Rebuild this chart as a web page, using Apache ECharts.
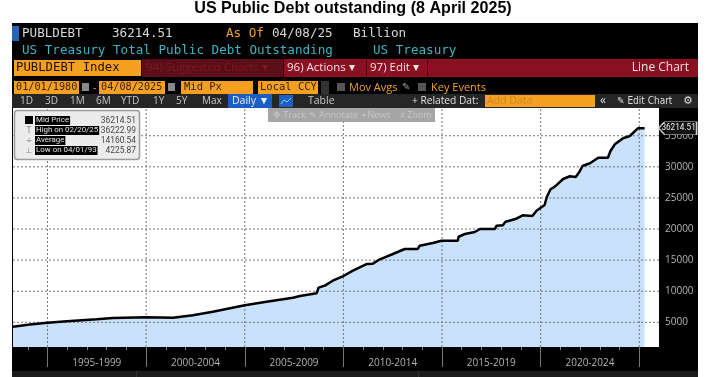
<!DOCTYPE html>
<html>
<head>
<meta charset="utf-8">
<style>html,body{margin:0;padding:0;background:#fff}#chart{width:711px;height:377px}</style>
<script src="https://cdn.jsdelivr.net/npm/echarts@6/dist/echarts.min.js"></script>
</head>
<body>
<div id="chart"></div>
<script>
var years = [1993.25, 1994.11, 1995, 1995.98, 1997.5, 1998.31, 2000, 2001.36, 2002.37, 2003.38, 2005, 2006.1, 2007.44, 2007.8, 2008.64, 2008.74, 2009.06, 2009.46, 2009.94, 2010.48, 2011.17, 2011.49, 2011.85, 2012.51, 2013.11, 2013.77, 2013.87, 2014.53, 2014.97, 2015.8, 2015.84, 2016.16, 2016.66, 2016.92, 2017.68, 2017.76, 2018.08, 2018.22, 2018.77, 2019.09, 2019.58, 2019.79, 2020.2, 2020.32, 2020.5, 2020.72, 2021.14, 2021.48, 2021.78, 2021.95, 2022.12, 2022.5, 2022.92, 2023.41, 2023.54, 2023.76, 2024.18, 2024.52, 2024.94, 2025.27];
var debt = [4296, 4640, 4940, 5160, 5480, 5690, 5800, 5740, 6120, 6700, 7730, 8310, 8950, 9230, 9660, 10570, 10890, 11690, 12330, 13300, 14370, 14430, 15130, 15980, 16790, 16790, 17320, 17750, 18120, 18120, 18760, 19200, 19520, 20000, 20000, 20530, 20600, 21180, 21660, 22200, 22100, 22950, 23860, 25200, 26390, 26810, 28040, 28480, 28370, 29120, 30130, 30570, 31470, 31470, 32550, 33620, 34590, 34960, 36222.99, 36214.51];
var yTicks = [5000, 10000, 15000, 20000, 25000, 30000, 35000];
var majorYears = [1995, 2000, 2005, 2010, 2015, 2020, 2025];
var minorYears = [1994, 1996, 1997, 1998, 1999, 2001, 2002, 2003, 2004, 2006, 2007, 2008, 2009, 2011, 2012, 2013, 2014, 2016, 2017, 2018, 2019, 2021, 2022, 2023, 2024];
var periodMids = [1997.5, 2002.5, 2007.5, 2012.5, 2017.5, 2022.5];
var periodLabels = ['1995-1999', '2000-2004', '2005-2009', '2010-2014', '2015-2019', '2020-2024'];
var statNames = ['Mid Price', 'High on 02/20/25', 'Average', 'Low on 04/01/93'];
var statValues = ['36214.51', '36222.99', '14160.54', '4225.87'];
var statMarks = ['', 'T', '÷', '⊥'];

var MONO = '"DejaVu Sans Mono"';
var SANS = '"Open Sans"';
var ORANGE = '#f5a020', CYAN = '#3db4c4', RED = '#8a1022', DARKRED = '#5c0d18', GREY = '#d8d8d8';

var els = [];
function box(x, y, w, h, fill, z, extra) {
    var e = { type: 'rect', shape: { x: x, y: y, width: w, height: h }, style: { fill: fill }, z: z === undefined ? 1 : z, silent: true };
    if (extra) { e.shape.r = extra.r; e.style.stroke = extra.stroke; e.style.lineWidth = extra.lineWidth; }
    els.push(e);
}
function txt(s, x, y, color, size, font, align, z, bold, bg) {
    var st = { text: s, fill: color, fontSize: size, fontFamily: font || SANS, align: align || 'left', verticalAlign: 'middle', fontWeight: bold ? 'bold' : 'normal' };
    if (bg) { st.backgroundColor = bg; st.padding = [1, 1, 0, 1]; }
    els.push({ type: 'text', x: x, y: y, z: z === undefined ? 2 : z, silent: true, style: st });
}

// terminal frame behind the plot
box(12, 23, 686, 354, '#000', -1);
box(12, 371, 686, 6, '#1b1b1b', -1);
box(136, 371, 1, 6, '#333', -1);
box(418, 371, 1, 6, '#333', -1);

// title
txt('US Public Debt outstanding (8 April 2025)', 353, 9, '#000', 16.1, '"Liberation Sans"', 'center', 2, true);

// header rows
box(12, 26, 7, 15, '#2463b8');
txt('PUBLDEBT', 22, 33.5, GREY, 12.6, MONO);
txt('36214.51', 112, 33.5, GREY, 12.6, MONO);
txt('As Of', 226, 33.5, ORANGE, 12.6, MONO);
txt('04/08/25', 272, 33.5, GREY, 12.6, MONO);
txt('Billion', 353, 33.5, GREY, 12.6, MONO);
txt('US Treasury Total Public Debt Outstanding', 22, 51, CYAN, 12.6, MONO);
txt('US Treasury', 373, 51, CYAN, 12.6, MONO);

box(14, 60, 127, 16, ORANGE);
txt('PUBLDEBT Index', 16, 68, '#1a1000', 12.3, MONO);
box(142, 59, 141, 18, DARKRED);
txt('94) Suggested Charts ▾', 146, 68, '#7c1a2a', 11.5);
box(284, 59, 414, 18, RED);
txt('96) Actions ▾', 287, 68, '#f0e4e4', 11.5);
box(366, 59, 1, 18, '#4a0a14');
txt('97) Edit ▾', 370, 68, '#f0e4e4', 11.5);
box(427, 59, 1, 18, '#4a0a14');
txt('Line Chart', 689, 68, '#f0e4e4', 12, SANS, 'right');

// date row
box(14, 81, 65, 13, ORANGE);
txt('01/01/1980', 16, 87.5, '#3a2000', 10.2, MONO);
box(82, 83, 7, 8, '#888');
txt('-', 93, 87.5, ORANGE, 11);
box(99, 81, 66, 13, ORANGE);
txt('04/08/2025', 101, 87.5, '#3a2000', 10.2, MONO);
box(168, 83, 7, 8, '#888');
box(181, 81, 72, 13, ORANGE);
txt('Mid Px', 184, 87.5, '#3a2000', 10.5, MONO);
box(258, 81, 60, 13, ORANGE);
txt('Local CCY', 260, 87.5, '#3a2000', 10.5, MONO);
box(321, 81, 8, 13, '#333');
box(337, 83, 8, 8, '#555');
txt('Mov Avgs', 349, 87.5, ORANGE, 11);
txt('✎', 402, 87.5, '#999', 10, '"DejaVu Sans"');
box(418, 83, 8, 8, '#555');
txt('Key Events', 431, 87.5, ORANGE, 11);

// toolbar row
box(12, 94, 686, 14, '#262626');
['1D', '3D', '1M', '6M', 'YTD', '1Y', '5Y', 'Max'].forEach(function(s, i) {
    txt(s, [20, 45, 70, 96, 121, 153, 176, 202][i], 101, '#c8c8c8', 10);
});
box(228, 94, 44, 14, '#1c5fc4');
txt('Daily ▼', 232, 101, '#e8eefc', 10.5);
box(279, 95, 14, 12, '#1c5fc4');
els.push({ type: 'polyline', z: 3, silent: true, shape: { points: [[281, 104], [284, 100], [287, 102], [291, 98]] }, style: { stroke: '#9cc4f5', lineWidth: 1, fill: 'none' } });
txt('Table', 308, 101, '#c8c8c8', 10.5);
txt('+ Related Dat:', 412, 101, '#e0e0e0', 10.2);
box(485, 95, 110, 12, ORANGE);
txt('Add Data', 487, 101, '#c98a20', 10.5);
txt('«', 600, 100.5, '#ddd', 12);
txt('✎ Edit Chart', 617, 101, '#ddd', 10, '"DejaVu Sans Condensed","Open Sans"');
txt('⚙', 683, 101, '#ddd', 11, '"DejaVu Sans"');

// floating chart tools
box(268, 108, 167, 14, '#a6a6a6', 20);
[['✥ Track', 273], ['✎ Annotate', 309], ['▪ News', 362], ['⌕ Zoom', 400]].forEach(function(t) {
    txt(t[0], t[1], 115, '#c6c6c6', 9, SANS, 'left', 21);
});

// stats legend
box(14.5, 110.5, 125, 49, '#ececec', 20, { r: 3, stroke: '#9a9a9a', lineWidth: 1.5 });
box(25, 116, 8, 8, '#000', 21);
statNames.forEach(function(name, i) {
    var y = 120.5 + i * 10;
    if (statMarks[i]) txt(statMarks[i], 29, y, '#8a8a8a', 8, '"DejaVu Sans"', 'center', 21);
    txt(name, 35, y, '#e4e4e4', 7.9, 'Roboto', 'left', 21, false, '#000');
    txt(statValues[i], 136, y, '#444', 8.4, 'Roboto', 'right', 22);
});

var xMin = 1993.25, xMax = 2026, yMin = 1028, yMax = 39460;
var curve = years.map(function(y, i) { return [y, debt[i]]; });

// grid lines sit on top of the area and under the curve, so they get their own series
function gridSeries(points) {
    return { type: 'line', z: 3, data: points, showSymbol: false, silent: true,
        lineStyle: { color: '#6f7680', type: [2, 2], width: 1 } };
}
var gridLines = majorYears.map(function(v) { return gridSeries([[v, yMin], [v, yMax]]); })
    .concat(yTicks.map(function(v) { return gridSeries([[xMin, v], [xMax, v]]); }));

var chart = echarts.init(document.getElementById('chart'));
chart.setOption({
    animation: false,
    backgroundColor: '#fff',
    graphic: { elements: els },
    grid: { left: 13, right: 52, top: 108, bottom: 30, show: true, backgroundColor: '#fff', borderWidth: 0 },
    xAxis: [{
        type: 'value', min: xMin, max: xMax, z: 1,
        axisLine: { show: false },
        axisTick: { show: true, customValues: majorYears, length: 20, lineStyle: { color: '#777' } },
        splitLine: { show: false },
        axisLabel: {
            customValues: periodMids, color: '#b4b4b4', fontSize: 10, fontFamily: SANS, margin: 11,
            formatter: function(v) { return periodLabels[periodMids.indexOf(v)]; }
        }
    }, {
        // yearly small ticks
        type: 'value', position: 'bottom', min: xMin, max: xMax, z: 1,
        axisLine: { show: false },
        axisTick: { show: true, customValues: minorYears, length: 3, lineStyle: { color: '#888' } },
        splitLine: { show: false },
        axisLabel: { show: false }
    }],
    yAxis: {
        type: 'value', position: 'right', min: yMin, max: yMax, z: 1,
        axisLine: { show: false },
        axisTick: { show: false, customValues: yTicks },
        splitLine: { show: false },
        axisLabel: { customValues: yTicks, color: '#b4b4b4', fontSize: 10, fontFamily: SANS, margin: 6, formatter: function(v) { return String(v); } }
    },
    series: [{
        type: 'line', z: 2,
        data: curve,
        showSymbol: false,
        lineStyle: { width: 0 },
        areaStyle: { color: '#c9e1fb', opacity: 1 }
    }].concat(gridLines, [{
        type: 'line', z: 4,
        data: curve,
        showSymbol: false,
        lineStyle: { color: '#000', width: 2.5 },
        markPoint: {
            silent: true,
            symbol: 'path://M0,6.5 L6,0 L38,0 L38,13 L6,13 Z',
            symbolSize: [38, 13],
            symbolKeepAspect: false,
            symbolOffset: [33, 0],
            itemStyle: { color: '#111', borderColor: '#ccc', borderWidth: 1 },
            label: { show: true, position: 'inside', color: '#eee', fontSize: 8.2, fontFamily: 'Roboto', offset: [1, 0], align: 'center', formatter: statValues[0] },
            data: [{ coord: [years[years.length - 1], debt[debt.length - 1]] }]
        }
    }])
});
</script>
</body>
</html>
